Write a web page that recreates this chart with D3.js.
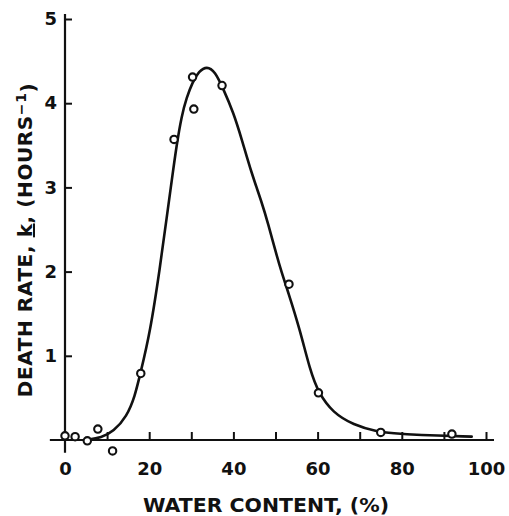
<!DOCTYPE html>
<html>
<head>
<meta charset="utf-8">
<script src="https://cdn.jsdelivr.net/npm/d3@7"></script>
<style>
  html, body { margin: 0; padding: 0; background: #fff; }
  svg { display: block; }
  text { font-family: "DejaVu Sans", sans-serif; font-weight: bold; fill: #111; }
</style>
</head>
<body>
<svg id="chart" width="509" height="516"></svg>
<script>
// Observed data points (water content %, death rate k per hour)
const pointWater = [0, 2.4, 5.3, 7.8, 11.3, 18, 25.9, 30.3, 30.6, 37.3, 53.2, 60.2, 75, 91.9];
const pointRate  = [0.05, 0.04, -0.01, 0.13, -0.13, 0.79, 3.57, 4.31, 3.93, 4.21, 1.85, 0.56, 0.09, 0.07];

// Hand-drawn fitted curve
const curveWater = [5, 8.7, 11.5, 14.7, 16.6, 17.8, 20.2, 22.6, 24.2, 25.3, 26.5, 27.7, 28.9, 30.3, 31.8, 33.7, 35.6, 37.6, 40.0, 42.0, 44.3, 46.7, 48.3, 49.9, 51.5, 53.0, 55.8, 58.2, 60.2, 63.7, 68.5, 74.0, 77.9, 83.5, 96.6];
const curveRate  = [0.0, 0.03, 0.10, 0.28, 0.52, 0.77, 1.27, 2.06, 2.66, 3.06, 3.50, 3.85, 4.07, 4.25, 4.38, 4.44, 4.38, 4.17, 3.89, 3.57, 3.17, 2.83, 2.56, 2.26, 1.98, 1.76, 1.31, 0.83, 0.56, 0.32, 0.18, 0.10, 0.08, 0.06, 0.04];

const xTicks = [0, 10, 20, 30, 40, 50, 60, 70, 80, 90, 100];
const xTickLabels = ["0", "", "20", "", "40", "", "60", "", "80", "", "100"];
const yTicks = [1, 2, 3, 4, 5];
const yTickLabels = ["1", "2", "3", "4", "5"];

const svg = d3.select("#chart");
const x = d3.scaleLinear().domain([0, 100]).range([65, 486]);
const y = d3.scaleLinear().domain([0, 5]).range([440, 19]);

// X axis
const xAxis = d3.axisBottom(x)
  .tickValues(xTicks)
  .tickFormat((d, i) => xTickLabels[i])
  .tickSize(-8)
  .tickSizeOuter(0)
  .tickPadding(22);
const gx = svg.append("g").attr("transform", `translate(0,${y(0)})`).call(xAxis);
gx.select(".domain").remove();
gx.selectAll(".tick line").attr("stroke", "#111").attr("stroke-width", 2)
  .filter(d => d === 0).remove();
gx.selectAll(".tick text").style("font-size", "18px").attr("fill", "#111");
gx.append("line")
  .attr("x1", x(-3.6)).attr("x2", x(101.9))
  .attr("y1", 0).attr("y2", 0)
  .attr("stroke", "#111").attr("stroke-width", 2.2);

// Y axis
const yAxis = d3.axisLeft(y)
  .tickValues(yTicks)
  .tickFormat((d, i) => yTickLabels[i])
  .tickSize(-7)
  .tickSizeOuter(0)
  .tickPadding(8);
const gy = svg.append("g").attr("transform", `translate(${x(0)},0)`).call(yAxis);
gy.select(".domain").remove();
gy.selectAll(".tick line").attr("stroke", "#111").attr("stroke-width", 2);
gy.selectAll(".tick text").style("font-size", "18px").attr("fill", "#111");
gy.append("line")
  .attr("x1", 0).attr("x2", 0)
  .attr("y1", y(5.06)).attr("y2", y(-0.15))
  .attr("stroke", "#111").attr("stroke-width", 2.2);

// Curve
const curveData = curveWater.map((w, i) => [w, curveRate[i]]);
svg.append("path")
  .datum(curveData)
  .attr("fill", "none")
  .attr("stroke", "#111")
  .attr("stroke-width", 2.6)
  .attr("stroke-linecap", "round")
  .attr("d", d3.line().x(d => x(d[0])).y(d => y(d[1])).curve(d3.curveBasis));

// Points
svg.append("g").selectAll("circle")
  .data(pointWater.map((w, i) => [w, pointRate[i]]))
  .join("circle")
  .attr("cx", d => x(d[0]))
  .attr("cy", d => y(d[1]))
  .attr("r", 3.7)
  .attr("fill", "#fff")
  .attr("stroke", "#111")
  .attr("stroke-width", 2.1);

// Axis titles
svg.append("text")
  .attr("x", 266).attr("y", 512)
  .attr("text-anchor", "middle")
  .style("font-size", "20px")
  .attr("textLength", 246)
  .attr("lengthAdjust", "spacingAndGlyphs")
  .text("WATER CONTENT, (%)");

const yt = svg.append("text")
  .attr("transform", "translate(32,240) rotate(-90)")
  .attr("text-anchor", "middle")
  .style("font-size", "20px")
  .style("letter-spacing", "0.6px");
yt.append("tspan").text("DEATH RATE, ");
yt.append("tspan").text("k").style("text-decoration", "underline");
yt.append("tspan").text(", (HOURS");
yt.append("tspan").text("−1").attr("dy", "-0.45em").style("font-size", "14px");
yt.append("tspan").text(")").attr("dy", "0.45em");
</script>
</body>
</html>
